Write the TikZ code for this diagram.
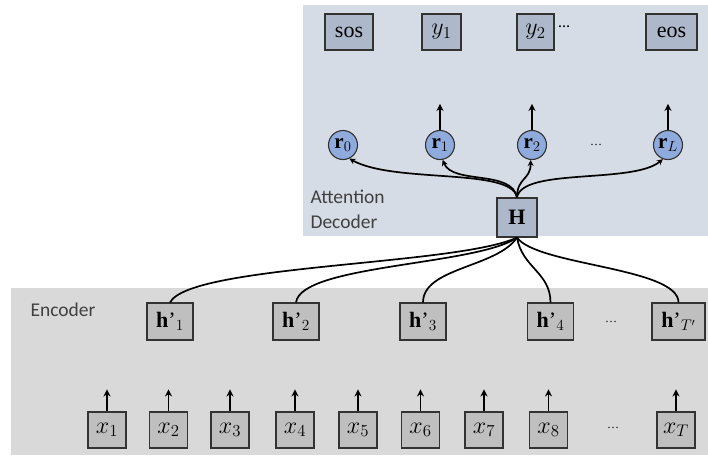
\documentclass[tikz,border=0pt]{standalone}
\usepackage{fix-cm}
\usepackage{fontspec}
\setmainfont{Liberation Serif}
\newfontfamily\panelfont{Carlito}
\usetikzlibrary{arrows.meta}
\definecolor{decbg}{HTML}{D6DCE5}
\definecolor{encbg}{HTML}{D9D9D9}
\definecolor{decbox}{HTML}{ADB9CA}
\definecolor{encbox}{HTML}{BFBFBF}
\definecolor{rfill}{HTML}{8FAADC}
\tikzset{
  dbox/.style={rectangle,draw=black!80,line width=1.1pt,fill=decbox,minimum height=36pt,inner sep=1pt,font=\fontsize{22}{24}\selectfont},
  ebox/.style={rectangle,draw=black!80,line width=1.1pt,fill=encbox,minimum height=37pt,minimum width=46pt,inner sep=1pt,font=\fontsize{22}{24}\selectfont},
  xbox/.style={ebox,minimum width=38pt,minimum height=36pt,font=\fontsize{24}{26}\selectfont},
  rnode/.style={circle,draw=black!80,line width=1.1pt,fill=rfill,minimum size=29pt,inner sep=0pt,font=\fontsize{21}{22}\selectfont},
  uparrow/.style={line width=1.7pt,-{Stealth[length=7pt,width=7pt]}},
  attn/.style={line width=1.7pt,-{Stealth[length=6pt,width=6pt]}},
  feed/.style={line width=1.7pt},
  dots/.style={font=\fontsize{12}{12}\selectfont,inner sep=0pt},
  panel/.style={font=\panelfont\fontsize{19.5}{25}\selectfont,text=black!75}
}
\begin{document}
\begin{tikzpicture}[x=1pt,y=-1pt]
  \useasboundingbox (0,0) rectangle (708,455);
  % panels
  \fill[decbg] (303,5) rectangle (708,236);
  \fill[encbg] (11,288) rectangle (708,455);
  \node[panel,anchor=west,align=left] (dectext) at (307,209) {Attention\\Decoder};
  \node[panel,anchor=west] (enctext) at (27,310) {Encoder};
  % decoder outputs
  \node[dbox,minimum width=48pt] (sos) at (349,32) {sos};
  \node[dbox,minimum width=39pt,font=\fontsize{24}{26}\selectfont] (y1) at (441.5,32) {$y_1$};
  \node[dbox,minimum width=37pt,font=\fontsize{24}{26}\selectfont] (y2) at (535.5,32) {$y_2$};
  \node[dots] (ydots) at (564,27) {\textbf{…}};
  \node[dbox,minimum width=51pt] (eos) at (671.5,32) {eos};
  % attention states
  \node[rnode] (r0) at (343,145) {$\mathbf{r}_0$};
  \node[rnode] (r1) at (440,145) {$\mathbf{r}_1$};
  \node[rnode] (r2) at (532,145) {$\mathbf{r}_2$};
  \node[dots] (rdots) at (596,145) {…};
  \node[rnode] (rL) at (668,145) {$\mathbf{r}_L$};
  \node[dbox,minimum width=40pt,minimum height=39pt] (H) at (517,217.5) {$\mathbf{H}$};
  \draw[uparrow] (r1.north) -- ++(0,-26);
  \draw[uparrow] (r2.north) -- ++(0,-26);
  \draw[uparrow] (rL.north) -- ++(0,-26);
  \draw[attn] (H.north) .. controls +(-5,-30) and +(45,25) .. (r0.-65);
  \draw[attn] (H.north) .. controls +(-5,-28) and +(10,25) .. (r1.-80);
  \draw[attn] (H.north) .. controls +(0,-20) and +(0,20) .. (r2.-95);
  \draw[attn] (H.north) .. controls +(5,-30) and +(-30,25) .. (rL.-110);
  % encoder
  \node[ebox] (h1) at (170,321.5) {\textbf{h}’$_1$};
  \node[ebox] (h2) at (296,321.5) {\textbf{h}’$_2$};
  \node[ebox] (h3) at (423,321.5) {\textbf{h}’$_3$};
  \node[ebox] (h4) at (550.5,321.5) {\textbf{h}’$_4$};
  \node[dots] (hdots) at (611,322) {…};
  \node[ebox,minimum width=53pt] (hT) at (678.5,321.5) {\textbf{h}’$_{T'}$};
  \draw[feed] (H.south) .. controls +(-60,28) and +(20,-38) .. (h1.north);
  \draw[feed] (H.south) .. controls +(-40,28) and +(5,-38) .. (h2.north);
  \draw[feed] (H.south) .. controls +(-20,30) and +(0,-35) .. (h3.north);
  \draw[feed] (H.south) .. controls +(5,30) and +(0,-30) .. (h4.north);
  \draw[feed] (H.south) .. controls +(20,28) and +(0,-35) .. (hT.north);
  % inputs
  \foreach \i/\xpos in {1/107,2/168.5,3/230,4/295,5/358,6/420.5,7/484,8/548.5}
    \node[xbox] (x\i) at (\xpos,430) {$x_{\i}$};
  \node[dots] (xdots) at (613,428) {…};
  \node[xbox] (xT) at (676,430) {$x_T$};
  \foreach \n in {x1,x2,x3,x4,x5,x6,x7,x8,xT}
    \draw[uparrow] (\n.north) -- ++(0,-22);
\end{tikzpicture}
\end{document}
